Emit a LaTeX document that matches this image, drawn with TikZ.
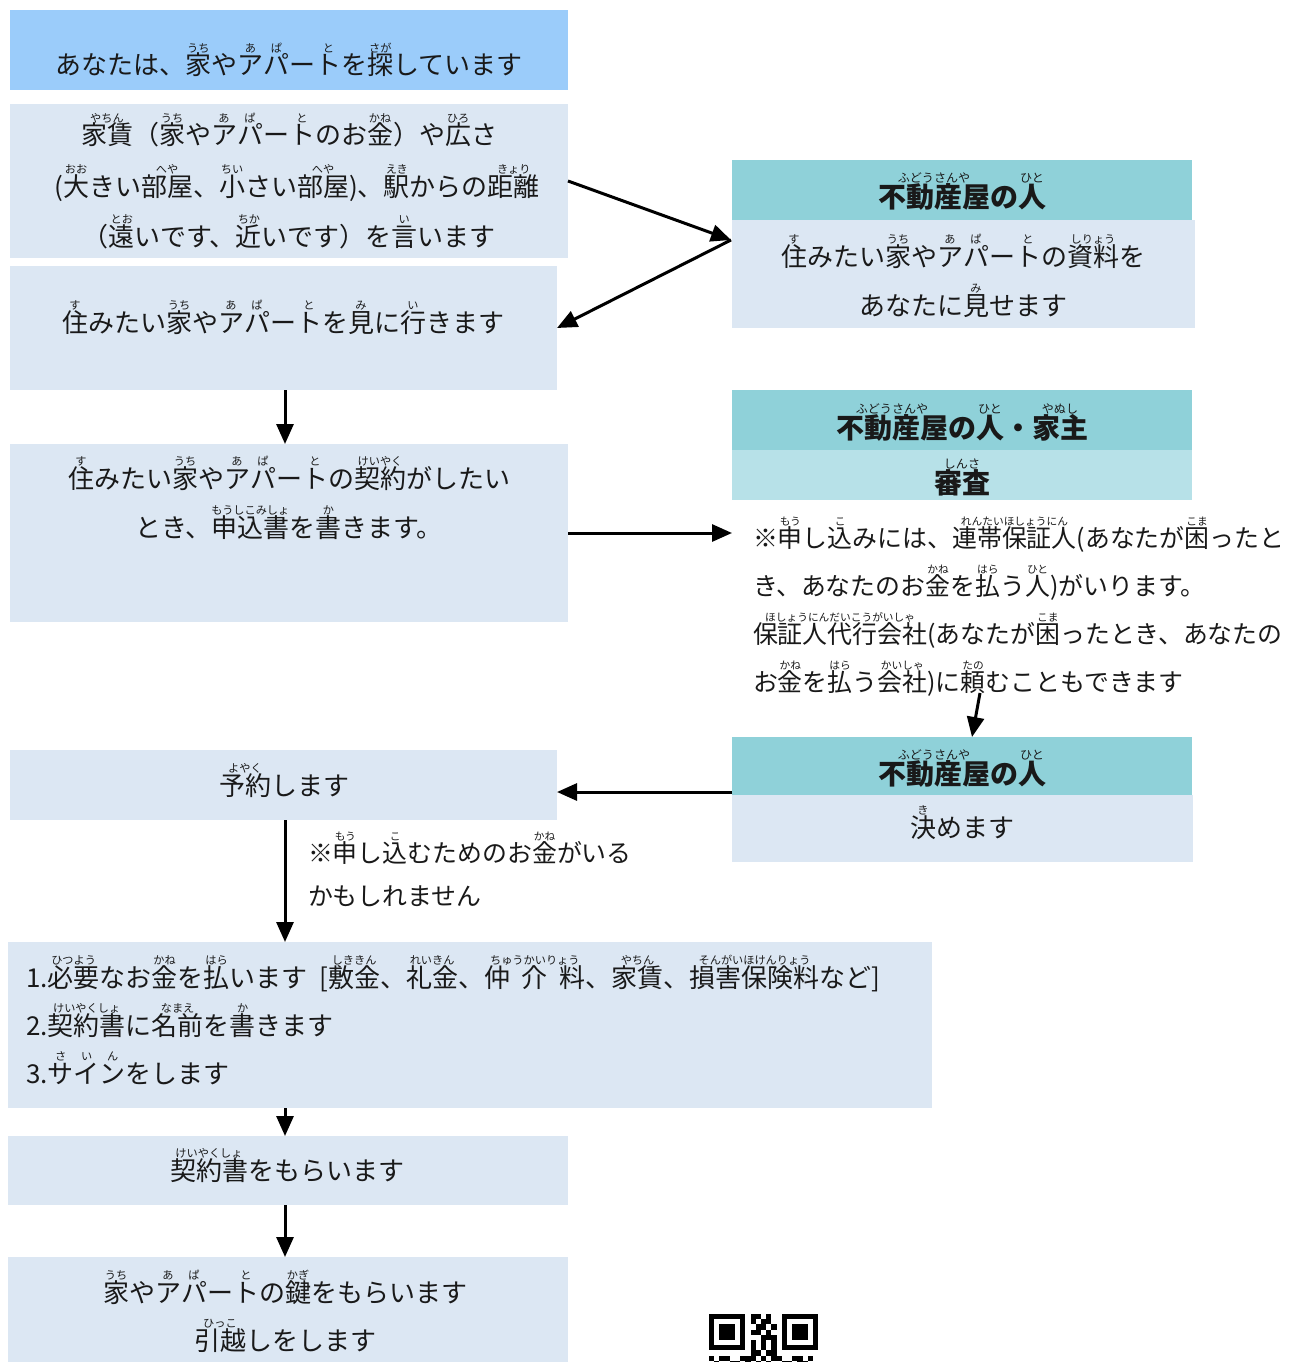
\documentclass[tikz,border=0pt]{standalone}
\usepackage{fontspec}
\setmainfont{Noto Sans CJK JP}
\usepackage{graphicx}
\usetikzlibrary{arrows.meta}
\definecolor{topblue}{RGB}{155,204,250}
\definecolor{lightbox}{RGB}{220,231,243}
\definecolor{hdrteal}{RGB}{143,209,217}
\definecolor{subteal}{RGB}{183,225,232}
\newcommand\rb[2]{\leavevmode\setbox0\hbox{#1}\hbox{\rlap{\hbox to\wd0{\hss\smash{\raisebox{0.86em}{\scalebox{0.43}{\mdseries #2}}}\hss}}\box0}}
\newcount\qrcol
\def\qrrow#1#2{\def\qrr{#1}\qrcol=0 \qrparse#2\relax}
\def\qrparse#1{\ifx\relax#1\else\if1#1\fill[black] ({709+5.2*\the\qrcol},{1314+5.2*\qrr}) rectangle ++(5.2,5.2);\fi\advance\qrcol by 1 \expandafter\qrparse\fi}
\tikzset{
  box/.style={inner sep=0pt, outer sep=0pt, anchor=north west, draw=none},
  txt/.style={inner sep=0pt, outer sep=0pt, anchor=base, text=black!90, font=\fontsize{26pt}{30pt}\selectfont},
  ltxt/.style={txt, anchor=base west},
  note/.style={ltxt, font=\fontsize{24.9pt}{30pt}\selectfont},
  hdr/.style={txt, font=\fontsize{28pt}{32pt}\selectfont\bfseries},
  arr/.style={line width=3pt, black, -{Triangle[length=20pt,width=17pt]}},
}
\begin{document}
\begin{tikzpicture}[x=1pt,y=-1pt]
\useasboundingbox (0,0) rectangle (1288,1362);
\fill[white] (0,0) rectangle (1288,1362);
% boxes
\node[box, fill=topblue, minimum width=558pt, minimum height=80pt] (b1) at (10,10) {};
\node[box, fill=lightbox, minimum width=558pt, minimum height=154pt] (b2) at (10,104) {};
\node[box, fill=lightbox, minimum width=547pt, minimum height=124pt] (b3) at (10,266) {};
\node[box, fill=lightbox, minimum width=558pt, minimum height=178pt] (b4) at (10,444) {};
\node[box, fill=hdrteal, minimum width=460pt, minimum height=60pt] (hA) at (732,160) {};
\node[box, fill=lightbox, minimum width=463pt, minimum height=108pt] (bA) at (732,220) {};
\node[box, fill=hdrteal, minimum width=460pt, minimum height=60pt] (hB) at (732,390) {};
\node[box, fill=subteal, minimum width=460pt, minimum height=50pt] (sB) at (732,450) {};
\node[box, fill=hdrteal, minimum width=460pt, minimum height=58pt] (hC) at (732,737) {};
\node[box, fill=lightbox, minimum width=461pt, minimum height=67pt] (bC) at (732,795) {};
\node[box, fill=lightbox, minimum width=547pt, minimum height=70pt] (b5) at (10,750) {};
\node[box, fill=lightbox, minimum width=924pt, minimum height=166pt] (b6) at (8,942) {};
\node[box, fill=lightbox, minimum width=560pt, minimum height=69pt] (b7) at (8,1136) {};
\node[box, fill=lightbox, minimum width=560pt, minimum height=105pt] (b8) at (8,1257) {};
% texts
\node[txt] (t1) at (289,75) {あなたは、\rb{家}{うち}や\rb{ア}{あ}\rb{パ}{ぱ}ー\rb{ト}{と}を\rb{探}{さが}しています};
\node[txt] (t2a) at (289,145) {\rb{家賃}{やちん}（\rb{家}{うち}や\rb{ア}{あ}\rb{パ}{ぱ}ー\rb{ト}{と}のお\rb{金}{かね}）や\rb{広}{ひろ}さ};
\node[txt] (t2b) at (297,196) {(\rb{大}{おお}きい\rb{部屋}{へや}、\rb{小}{ちい}さい\rb{部屋}{へや})、\rb{駅}{えき}からの\rb{距離}{きょり}};
\node[txt] (t2c) at (289,246) {（\rb{遠}{とお}いです、\rb{近}{ちか}いです）を\rb{言}{い}います};
\node[txt] (t3) at (283,332) {\rb{住}{す}みたい\rb{家}{うち}や\rb{ア}{あ}\rb{パ}{ぱ}ー\rb{ト}{と}を\rb{見}{み}に\rb{行}{い}きます};
\node[txt] (t4a) at (289,488) {\rb{住}{す}みたい\rb{家}{うち}や\rb{ア}{あ}\rb{パ}{ぱ}ー\rb{ト}{と}の\rb{契約}{けいやく}がしたい};
\node[txt] (t4b) at (289,537) {とき、\rb{申込書}{もうしこみしょ}を\rb{書}{か}きます。};
\node[hdr] (tA) at (962,207) {\rb{不動産屋}{ふどうさんや}の\rb{人}{ひと}};
\node[txt] (tAa) at (963,266) {\rb{住}{す}みたい\rb{家}{うち}や\rb{ア}{あ}\rb{パ}{ぱ}ー\rb{ト}{と}の\rb{資料}{しりょう}を};
\node[txt] (tAb) at (963,315) {あなたに\rb{見}{み}せます};
\node[hdr] (tB) at (962,438) {\rb{不動産屋}{ふどうさんや}の\rb{人}{ひと}・\rb{家主}{やぬし}};
\node[hdr] (tBs) at (962,493) {\rb{審査}{しんさ}};
\node[note] (n1) at (753,547) {※\rb{申}{もう}し\rb{込}{こ}みには、\rb{連帯保証人}{れんたいほしょうにん}(あなたが\rb{困}{こま}ったと};
\node[note] (n2) at (753,595) {き、あなたのお\rb{金}{かね}を\rb{払}{はら}う\rb{人}{ひと})がいります。};
\node[note] (n3) at (753,643) {\rb{保証人代行会社}{ほしょうにんだいこうがいしゃ}(あなたが\rb{困}{こま}ったとき、あなたの};
\node[note] (n4) at (753,691) {お\rb{金}{かね}を\rb{払}{はら}う\rb{会社}{かいしゃ})に\rb{頼}{たの}むこともできます};
\node[hdr] (tC) at (962,784) {\rb{不動産屋}{ふどうさんや}の\rb{人}{ひと}};
\node[txt] (tCb) at (962,837) {\rb{決}{き}めます};
\node[txt] (t5) at (284,795) {\rb{予約}{よやく}します};
\node[note] (m1) at (308,862) {※\rb{申}{もう}し\rb{込}{こ}むためのお\rb{金}{かね}がいる};
\node[note] (m2) at (308,905) {かもしれません};
\node[ltxt] (t6a) at (26,987) {1.\rb{必要}{ひつよう}なお\rb{金}{かね}を\rb{払}{はら}います\hspace{0.45em}[\rb{敷金}{しききん}、\rb{礼金}{れいきん}、\rb{仲\hspace{0.45em}介\hspace{0.45em}料}{ちゅうかいりょう}、\rb{家賃}{やちん}、\rb{損害保険料}{そんがいほけんりょう}など]};
\node[ltxt] (t6b) at (26,1035) {2.\rb{契約書}{けいやくしょ}に\rb{名前}{なまえ}を\rb{書}{か}きます};
\node[ltxt] (t6c) at (26,1083) {3.\rb{サ}{さ}\rb{イ}{い}\rb{ン}{ん}をします};
\node[txt] (t7) at (287,1180) {\rb{契約書}{けいやくしょ}をもらいます};
\node[txt] (t8a) at (285,1302) {\rb{家}{うち}や\rb{ア}{あ}\rb{パ}{ぱ}ー\rb{ト}{と}の\rb{鍵}{かぎ}をもらいます};
\node[txt] (t8b) at (285,1350) {\rb{引越}{ひっこ}しをします};
% connectors
\coordinate (ax) at (285,0);
\coordinate (inA) at (731,240);
\coordinate (noteIn) at (732,533);
\coordinate (noteOut) at (980,693);
\coordinate (cTop) at (972,737);
\coordinate (cOut) at (732,792);
\draw[arr] (b2.east) -- (inA);
\draw[arr] (inA) -- (b3.east);
\draw[arr] (b3.south -| ax) -- (b4.north -| ax);
\draw[arr] (b4.east) -- (noteIn);
\draw[arr] (noteOut) -- (cTop);
\draw[arr] (cOut) -- (cOut -| b5.east);
\draw[arr] (b5.south -| ax) -- (b6.north -| ax);
\draw[arr] (b6.south -| ax) -- (b7.north -| ax);
\draw[arr] (b7.south -| ax) -- (b8.north -| ax);
% QR code (partly visible)
\qrrow{0}{111111101101001111111}
\qrrow{1}{100000101011001000001}
\qrrow{2}{101110100110101011101}
\qrrow{3}{101110101101001011101}
\qrrow{4}{101110100011101011101}
\qrrow{5}{100000101010101000001}
\qrrow{6}{111111101010101111111}
\qrrow{7}{000000001101100000000}
\qrrow{8}{101100111010110011010}
\qrrow{9}{010011010101001101100}
\end{tikzpicture}
\end{document}
